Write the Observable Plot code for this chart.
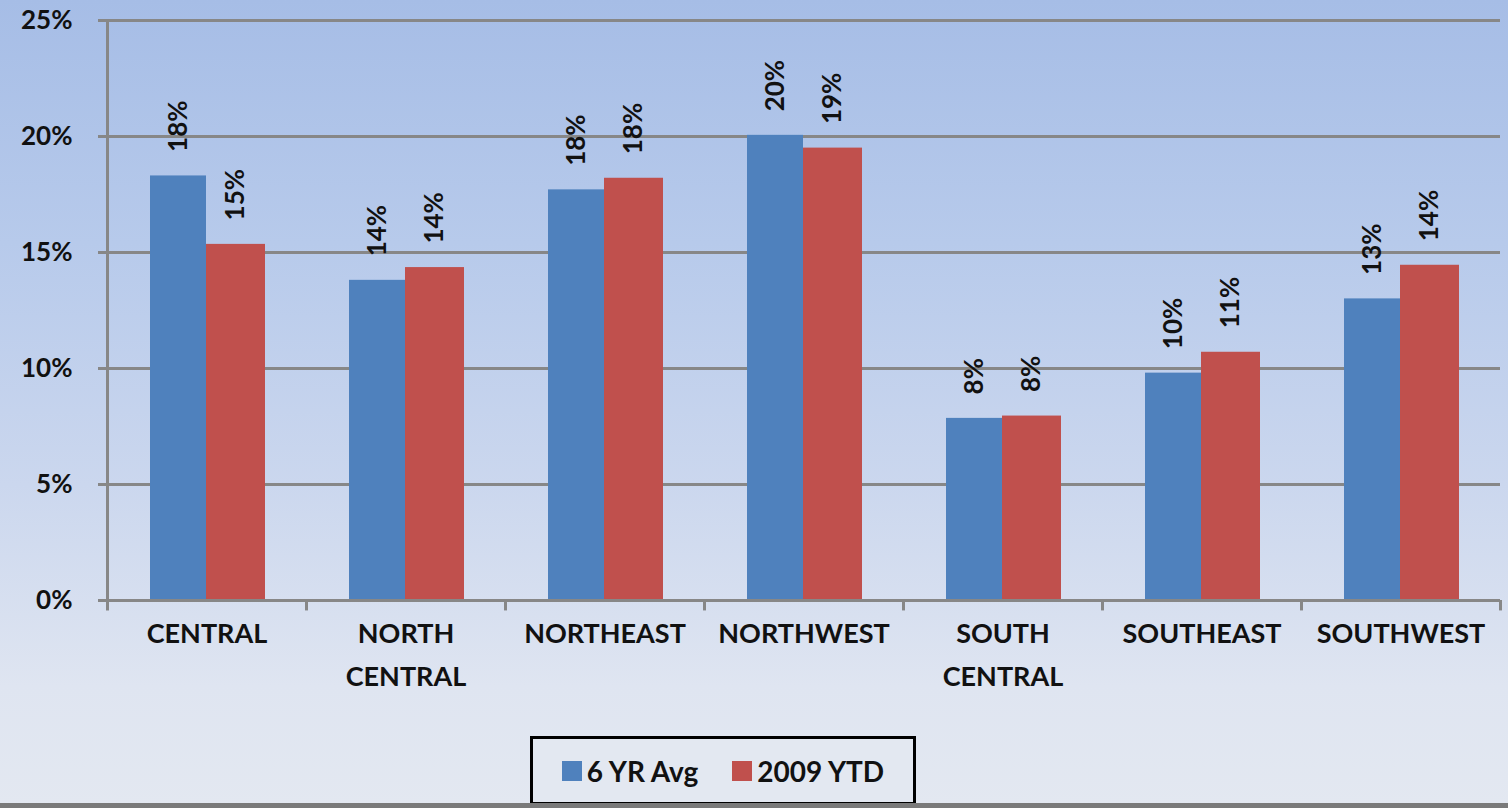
<!DOCTYPE html>
<html>
<head>
<meta charset="utf-8">
<script src="https://cdn.jsdelivr.net/npm/d3@7"></script>
<script src="https://cdn.jsdelivr.net/npm/@observablehq/plot@0.6"></script>
<style>
  html, body { margin: 0; padding: 0; }
  #chart {
    position: relative; width: 1508px; height: 808px; overflow: hidden;
    background: linear-gradient(to bottom, #a6bde6 0%, #b7caeb 30%, #cbd7ee 60%, #dfe5f1 85%, #e3e8f1 100%);
    font-family: Lato, "Open Sans", sans-serif;
  }
  #chart svg { position: absolute; left: 0; top: 0; background: transparent; }
  #legend {
    position: absolute; left: 530px; top: 736px; width: 380px; height: 63px;
    border: 3px solid #000; box-sizing: content-box;
    display: flex; align-items: center; justify-content: center; gap: 34px;
    font-weight: bold; font-size: 28px; color: #111;
    background: #e3e8f1;
  }
  #legend .item { display: flex; align-items: center; gap: 5px; }
  #legend .sw { width: 20px; height: 20px; display: inline-block; }
  #bottomline { position: absolute; left: 0; top: 803px; width: 1508px; height: 5px; background: #7a7a7a; }
</style>
</head>
<body>
<div id="chart"></div>
<script>
const regions = ["CENTRAL", "NORTH CENTRAL", "NORTHEAST", "NORTHWEST", "SOUTH CENTRAL", "SOUTHEAST", "SOUTHWEST"];
const regionLabels = ["CENTRAL", "NORTH\nCENTRAL", "NORTHEAST", "NORTHWEST", "SOUTH\nCENTRAL", "SOUTHEAST", "SOUTHWEST"];
const seriesNames = ["6 YR Avg", "2009 YTD"];
const avg6yr = [18.3, 13.8, 17.7, 20.05, 7.85, 9.8, 13.0];
const ytd2009 = [15.35, 14.35, 18.2, 19.5, 7.95, 10.7, 14.45];
const avgLabels = ["18%", "14%", "18%", "20%", "8%", "10%", "13%"];
const ytdLabels = ["15%", "14%", "18%", "19%", "8%", "11%", "14%"];
const yTicks = [0, 5, 10, 15, 20, 25];
const colors = ["#4f81bd", "#c0504d"];

const W = 1508, H = 720, mL = 107, mR = 8, mT = 20, mB = 120;
const band = (W - mL - mR) / regions.length;
const gray = "#878787";

const rows = regions.map((r, i) => ({region: r, label: regionLabels[i], avg: avg6yr[i], ytd: ytd2009[i], avgL: avgLabels[i], ytdL: ytdLabels[i]}));

const labelFont = {fontSize: 26, fontWeight: "bold", fill: "#111"};

const plot = Plot.plot({
  width: W, height: H,
  marginLeft: mL, marginRight: mR, marginTop: mT, marginBottom: mB,
  style: {background: "transparent", fontFamily: "Lato, 'Open Sans', sans-serif", overflow: "visible"},
  x: {domain: regions, padding: 0, axis: null},
  y: {domain: [0, 25], axis: null},
  marks: [
    Plot.ruleY(yTicks.filter(d => d > 0), {stroke: gray, strokeWidth: 3}),
    Plot.barY(rows, {x: "region", y: "avg", fill: colors[0], insetLeft: 43, insetRight: band - 99}),
    Plot.barY(rows, {x: "region", y: "ytd", fill: colors[1], insetLeft: 99, insetRight: band - 158}),
    Plot.ruleY([0], {stroke: gray, strokeWidth: 3}),
    Plot.ruleX(regions, {x: d => d, dx: -band / 2, y1: -0.45, y2: d => d === regions[0] ? 25 : 0, stroke: gray, strokeWidth: 3}),
    Plot.ruleX([regions[regions.length - 1]], {x: d => d, dx: band / 2, y1: -0.45, y2: 0, stroke: gray, strokeWidth: 3}),
    Plot.axisY({ticks: yTicks, tickSize: 9, tickPadding: 26, tickFormat: d => d + "%", stroke: gray, strokeWidth: 3, fontSize: 26, fontWeight: "bold", fill: "#111"}),
    Plot.text(rows, {x: "region", y: "avg", text: "avgL", rotate: -90, textAnchor: "start", lineAnchor: "middle", dx: -28.5, dy: -24, ...labelFont}),
    Plot.text(rows, {x: "region", y: "ytd", text: "ytdL", rotate: -90, textAnchor: "start", lineAnchor: "middle", dx: 29, dy: -24, ...labelFont}),
    Plot.text(rows, {x: "region", y: 0, text: "label", lineAnchor: "top", dy: 12, lineHeight: 1.6, fontSize: 27, fontWeight: "bold", fill: "#111"})
  ]
});

const chart = document.getElementById("chart");
chart.appendChild(plot);

const legend = document.createElement("div");
legend.id = "legend";
seriesNames.forEach((name, i) => {
  const it = document.createElement("div");
  it.className = "item";
  const sw = document.createElement("span");
  sw.className = "sw";
  sw.style.background = colors[i];
  const t = document.createElement("span");
  t.textContent = name;
  it.appendChild(sw); it.appendChild(t);
  legend.appendChild(it);
});
chart.appendChild(legend);
const bl = document.createElement("div");
bl.id = "bottomline";
chart.appendChild(bl);
</script>
</body>
</html>
